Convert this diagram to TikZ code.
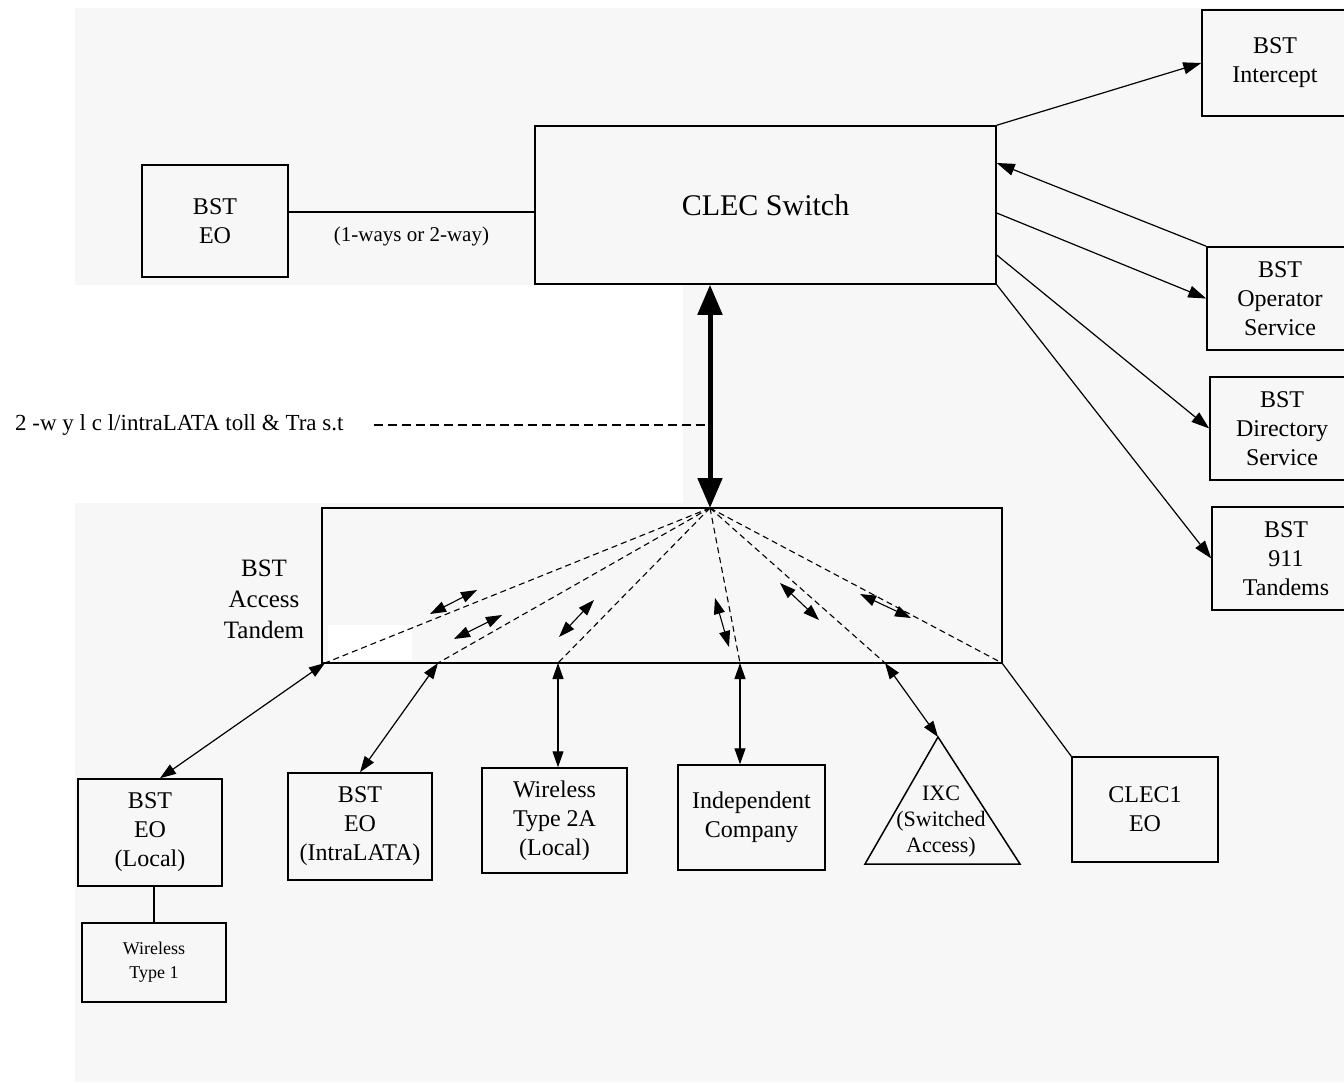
\documentclass[tikz,border=0pt]{standalone}
\usepackage{fontspec}
\setmainfont{Liberation Serif}
\usetikzlibrary{arrows.meta}
\definecolor{scangray}{HTML}{F7F7F7}

\tikzset{
  box/.style={draw,line width=1.5pt,align=center,inner sep=0pt,
    font=\fontsize{24}{29}\selectfont},
  link/.style={line width=1.2pt},
  tip/.style={-{Triangle[length=18pt,width=12pt]}},
  dbl/.style={arrows={Triangle[length=16pt,width=11pt]-Triangle[length=16pt,width=11pt]}},
  fan/.style={line width=1.1pt,dash pattern=on 6pt off 4pt},
  trunk/.style={line width=5pt,
    arrows={Triangle[length=30pt,width=24pt]-Triangle[length=30pt,width=24pt]}}
}

\begin{document}
\begin{tikzpicture}[x=1pt,y=-1pt]
\useasboundingbox (0,0) rectangle (1344,1082);
\clip (0,0) rectangle (1344,1082);

% scanned page
\fill[scangray] (75,8) rectangle (1344,1082);
\fill[white] (0,285) rectangle (683,503);
\fill[white] (328,625) rectangle (412,660);

% top part
\node[box,minimum width=146pt,minimum height=112pt] (eoTop) at (215,221) {BST\\EO};
\node[box,minimum width=461pt,minimum height=158pt,font=\fontsize{30}{36}\selectfont] (clec) at (765.5,205) {CLEC Switch};

\node[box,minimum width=146pt,minimum height=106pt] (intercept) at (1275,63) {BST\\Intercept};
\node[box,minimum width=146pt,minimum height=103pt] (operator) at (1280,298.5) {BST\\Operator\\Service};
\node[box,minimum width=144pt,minimum height=103pt] (directory) at (1282,428.5) {BST\\Directory\\Service};
\node[box,minimum width=148pt,minimum height=103pt] (tandems) at (1286,558.5) {BST\\911\\Tandems};

\draw[link] ([yshift=9pt]eoTop.east) -- node[below=11pt,font=\fontsize{21}{25}\selectfont] {(1-ways or 2-way)} ([yshift=9pt]eoTop.east -| clec.west);

\draw[link,tip] (clec.north east) -- (intercept.west);
\draw[link,tip] (operator.north west) -- ([yshift=42pt]clec.east);
\draw[link,tip] ([yshift=-8pt]clec.east) -- (operator.west);
\draw[link,tip] ([yshift=-50pt]clec.east) -- (directory.west);
\draw[link,tip] (clec.south east) -- (tandems.west);

% access tandem
\node[draw,line width=1.5pt,minimum width=680pt,minimum height=155pt] (tandem) at (662,585.5) {};
\node[align=center,font=\fontsize{25}{31}\selectfont] (tandemLbl) at (264,599) {BST\\Access\\Tandem};
\coordinate (hub) at (710,508);

\draw[trunk] (hub |- clec.south) -- (hub);

\node[anchor=west,inner sep=0pt,font=\fontsize{23}{27}\selectfont] (transitLbl) at (15,425) {2 -w y l c l/intraLATA toll \& Tra s.t};
\draw[line width=1.2pt,dash pattern=on 9pt off 5pt] ([xshift=30pt]transitLbl.east) -- (transitLbl.east -| hub);

\foreach \n/\x in {1/325,2/438,3/558,4/740,5/885,6/1002}
  \coordinate (t\n) at (\x,663);
\foreach \n in {1,...,6}
  \draw[fan] (hub) -- (t\n);

\foreach \ax/\ay/\bx/\by in {430/614/477/590,454/639/502/615,559/637/594/600,
    715/598/729/647,780/583/819/620,860/594/911/618}
  \draw[line width=1.1pt,dbl] (\ax,\ay) -- (\bx,\by);

% bottom row
\node[box,minimum width=144pt,minimum height=107pt] (eoLocal) at (150,832.5) {BST\\EO\\(Local)};
\node[box,minimum width=144pt,minimum height=107pt] (eoIntra) at (360,826.5) {BST\\EO\\(IntraLATA)};
\node[box,minimum width=145pt,minimum height=105pt] (wireless2A) at (554.5,820.5) {Wireless\\Type 2A\\(Local)};
\node[box,minimum width=147pt,minimum height=105pt] (indep) at (751.5,817.5) {Independent\\Company};
\node[box,minimum width=146pt,minimum height=105pt] (clecOne) at (1145,809.5) {CLEC1\\EO};
\node[box,minimum width=144pt,minimum height=79pt,font=\fontsize{18}{24}\selectfont] (wireless1) at (154,962.5) {Wireless\\Type 1};

\coordinate (ixcTop) at (938,737);
\draw[line width=1.5pt] (ixcTop) -- (865,864) -- (1020,864) -- cycle;
\node[align=center,font=\fontsize{22}{26}\selectfont] (ixc) at (941,822) {IXC\\(Switched\\Access)};

\draw[link,dbl] (t1) -- ([xshift=10pt]eoLocal.north);
\draw[link,dbl] (t2) -- (eoIntra.north);
\draw[link,dbl] (t3) -- (t3 |- wireless2A.north);
\draw[link,dbl] (t4) -- (t4 |- indep.north);
\draw[link,dbl] (t5) -- (ixcTop);
\draw[link] (t6) -- (clecOne.north west);

\draw[link] (wireless1.north |- eoLocal.south) -- (wireless1.north);

\end{tikzpicture}
\end{document}
